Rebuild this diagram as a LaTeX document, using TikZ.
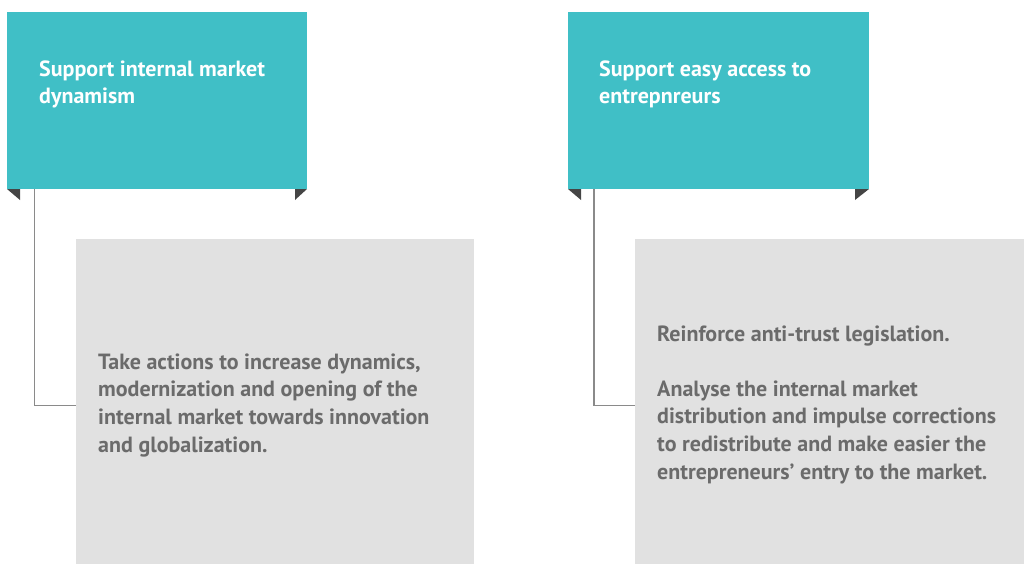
\documentclass[tikz,border=0pt]{standalone}
\usepackage{fontspec}
\setmainfont{PT Sans}
\definecolor{teal}{HTML}{40BFC6}
\definecolor{panel}{HTML}{E1E1E1}
\definecolor{bodytxt}{HTML}{6B6B6B}
\definecolor{flap}{HTML}{454545}
\definecolor{linkc}{HTML}{8A8A8A}
\begin{document}
\begin{tikzpicture}[x=1pt,y=-1pt,
  header/.style={fill=teal,draw=none},
  panelbox/.style={fill=panel,draw=none},
  headtxt/.style={anchor=base west,inner sep=0,align=left,text=white,font=\bfseries\fontsize{22}{27.5}\selectfont},
  bodytext/.style={anchor=base west,inner sep=0,align=left,text=bodytxt,font=\bfseries\fontsize{22}{27.6}\selectfont},
  link/.style={draw=linkc,line width=1.6pt},
  flapfill/.style={fill=flap,draw=none}]
\useasboundingbox (0,0) rectangle (1024,564);
% left column
\fill[header] (7,12) rectangle (307,189);
\coordinate (h1) at (34.5,189);
\fill[flapfill] (7,189) -- (20,189) -- (20,200) -- cycle;
\fill[flapfill] (295,189) -- (307,189) -- (295,200) -- cycle;
\fill[panelbox] (76,239) rectangle (474,564);
\coordinate (p1) at (76,405.5);
\draw[link] (h1) |- (p1);
\node[headtxt] (t1) at (39,104) {Support internal market\\dynamism};
\node[bodytext] (b1) at (98,452) {Take actions to increase dynamics,\\modernization and opening of the\\internal market towards innovation\\and globalization.};
% right column
\fill[header] (568,12) rectangle (869,189);
\coordinate (h2) at (594,189);
\fill[flapfill] (568,189) -- (581,189) -- (581,200) -- cycle;
\fill[flapfill] (855,189) -- (869,189) -- (855,200) -- cycle;
\fill[panelbox] (635,239) rectangle (1024,564);
\coordinate (p2) at (635,405.5);
\draw[link] (h2) |- (p2);
\node[headtxt] (t2) at (599,104) {Support easy access to\\entrepnreurs};
\node[bodytext] (b2) at (657,479) {Reinforce anti-trust legislation.\\[27.6pt]Analyse the internal market\\distribution and impulse corrections\\to redistribute and make easier the\\entrepreneurs’ entry to the market.};
\end{tikzpicture}
\end{document}
